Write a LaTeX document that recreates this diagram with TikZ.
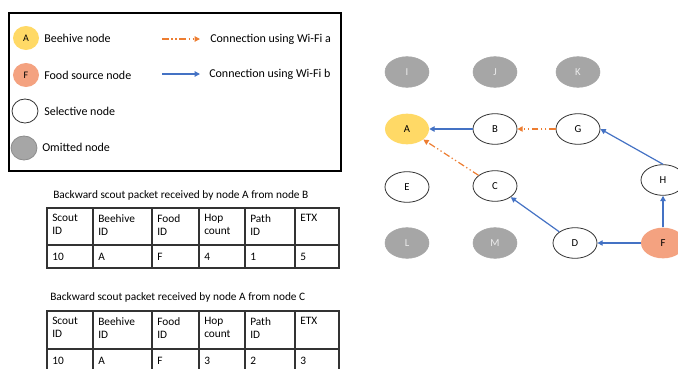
\documentclass[tikz,border=0pt]{standalone}
\usepackage{fontspec}
\setmainfont{Carlito}
\usetikzlibrary{shapes.geometric,arrows.meta}
\definecolor{hivecol}{RGB}{255,217,102}
\definecolor{foodcol}{RGB}{244,162,128}
\definecolor{omitcol}{RGB}{166,166,166}
\definecolor{wifia}{RGB}{237,125,49}
\definecolor{wifib}{RGB}{68,114,196}

\begin{document}
\begin{tikzpicture}[x = 0.75pt, y = -0.75pt, font = \fontsize{9}{11}\selectfont,
  every node/.style = {inner sep = 0pt},
  host/.style = {ellipse, minimum width = 33pt, minimum height = 23pt, font = \fontsize{8}{9}\selectfont},
  hive/.style = {host, fill = hivecol},
  food/.style = {host, fill = foodcol},
  sel/.style = {host, draw = black!80, line width = 0.6pt, fill = white},
  omit/.style = {host, fill = omitcol, draw = black!35, text = white!85!gray},
  lgd/.style = {ellipse, minimum width = 19.5pt, minimum height = 18pt, font = \fontsize{7.5}{8}\selectfont},
  lgdtext/.style = {anchor = west},
  wa/.style = {wifia, line width = 0.9pt, dash pattern = on 5pt off 2pt on 1pt off 2pt on 1pt off 2pt, -{Triangle[length = 4pt, width = 4pt]}},
  wb/.style = {wifib, line width = 0.9pt, -{Triangle[length = 4pt, width = 4pt]}},
  grid/.style = {line width = 0.9pt, black!80},
  cell/.style = {anchor = north west, align = left, font = \fontsize{8.5}{10}\selectfont},
  datum/.style = {anchor = west, font = \fontsize{8.5}{10}\selectfont},
  caption/.style = {anchor = west, font = \fontsize{8.5}{10}\selectfont}]
\useasboundingbox (0,0) rectangle (678,368);

% legend
\draw[line width = 0.8pt] (9,13) rectangle (341,171);
\node[lgd, fill = hivecol] (lA) at (26,38) {A};
\node[lgd, fill = foodcol] (lF) at (26,75) {F};
\node[lgd, draw = black!80, line width = 0.6pt, fill = white] (lS) at (25,111) {};
\node[lgd, draw = black!45, line width = 0.6pt, fill = omitcol] (lO) at (24,148) {};
\node[lgdtext] (tA) at (44,38) {Beehive node};
\node[lgdtext] (tF) at (44,75) {Food source node};
\node[lgdtext] (tS) at (44,111) {Selective node};
\node[lgdtext] (tO) at (42,147) {Omitted node};
\coordinate (a0) at (162,39);
\coordinate (a1) at (200,39);
\coordinate (b0) at (162,74);
\coordinate (b1) at (200,74);
\draw[wa] (a0) -- (a1);
\draw[wb] (b0) -- (b1);
\node[lgdtext] (ta) at (210,39) {Connection using Wi-Fi a};
\node[lgdtext] (tb) at (209,74) {Connection using Wi-Fi b};

% table from B
\node[caption] (capB) at (53,195) {Backward scout packet received by node A from node B};
\draw[grid] (47,208) rectangle (339,268);
\draw[grid] (47,245) -- (339,245);
\foreach \x in {93,152,199,245,295} \draw[grid] (\x,208) -- (\x,268);
\foreach \x/\h/\v [count = \i] in {47/{Scout\\ID}/10, 93/{Beehive\\ID}/A, 152/{Food\\ID}/F,
    199/{Hop\\count}/4, 245/{Path\\ID}/1, 295/{ETX}/5} {
  \node[cell] (hb\i) at (\x+5,214) {\h};
  \node[datum] (vb\i) at (\x+5,257) {\v};
}

% table from C
\node[caption] (capC) at (50,297) {Backward scout packet received by node A from node C};
\draw[grid] (47,311) rectangle (339,373);
\draw[grid] (47,349) -- (339,349);
\foreach \x in {93,152,199,245,295} \draw[grid] (\x,311) -- (\x,373);
\foreach \x/\h/\v [count = \i] in {47/{Scout\\ID}/10, 93/{Beehive\\ID}/A, 152/{Food\\ID}/F,
    199/{Hop\\count}/3, 245/{Path\\ID}/2, 295/{ETX}/3} {
  \node[cell] (hc\i) at (\x+5,317) {\h};
  \node[datum] (vc\i) at (\x+5,361) {\v};
}

% network
\node[omit] (I) at (407,72) {I};
\node[omit] (J) at (495,72) {J};
\node[omit] (K) at (578,72) {K};
\node[hive] (A) at (407,129) {A};
\node[sel] (B) at (495,129) {B};
\node[sel] (G) at (578,129) {G};
\node[sel] (E) at (407,187) {E};
\node[sel] (C) at (495,186) {C};
\node[sel] (H) at (663,180) {H};
\node[omit] (L) at (407,243) {L};
\node[omit] (M) at (495,243) {M};
\node[sel] (D) at (575,243) {D};
\node[food] (F) at (663,243) {F};

\draw[wb] (B) -- (A);
\draw[wa] (G) -- (B);
\draw[wa] (C) -- (A);
\draw[wb] (D) -- (C);
\draw[wb] (F) -- (D);
\draw[wb] (F) -- (H);
\draw[wb] (H.north) -- (G.east);
\end{tikzpicture}
\end{document}
